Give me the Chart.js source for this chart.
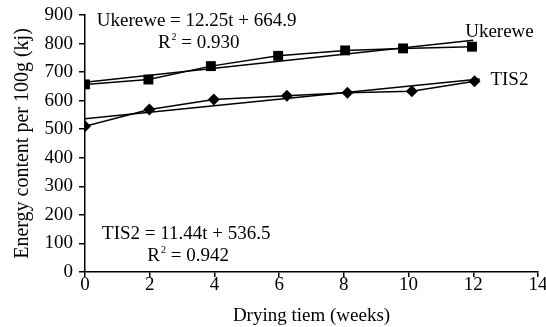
<!DOCTYPE html>
<html>
<head>
<meta charset="utf-8">
<script src="https://cdn.jsdelivr.net/npm/chart.js@4.4.1/dist/chart.umd.min.js"></script>
<style>
  html, body { margin: 0; padding: 0; background: #fff; overflow: hidden; }
</style>
</head>
<body>
<canvas id="energyChart" width="546" height="327"></canvas>
<script>
// ===== DATA =====
const weeksUkerewe = [0, 1.96, 3.89, 5.97, 8.04, 9.83, 11.96];
const energyUkerewe = [657, 674, 721, 757, 776, 783, 789];
const weeksTIS2 = [0, 1.99, 3.98, 6.24, 8.11, 10.1, 12.04];
const energyTIS2 = [510, 569, 604, 617, 628, 633, 668];

// linear fits: [slope, intercept], span of the fitted line, R²
const fitUkerewe = [12.25, 664.9];
const fitTIS2 = [11.44, 536.5];
const spanUkerewe = [0, 12];
const spanTIS2 = [0, 12.2];
const r2Ukerewe = '0.930';
const r2TIS2 = '0.942';

const FAMILY = '"Liberation Serif", "Times New Roman", serif';
const SIZE = 19;

const toPoints = (xs, ys) => xs.map((x, i) => ({ x: x, y: ys[i] }));
const fitLine = (fit, span) => span.map(t => ({ x: t, y: fit[0] * t + fit[1] }));

// ===== TEXT ON THE PLOT =====
function drawR2(ctx, cx, cy, value) {
  const big = SIZE + 'px ' + FAMILY;
  const small = '10px ' + FAMILY;
  const rest = ' = ' + value;
  ctx.font = big;
  const wR = ctx.measureText('R').width;
  const wRest = ctx.measureText(rest).width;
  ctx.font = small;
  const w2 = ctx.measureText('2').width;
  let x = cx - (wR + w2 + wRest) / 2;
  ctx.textAlign = 'left';
  ctx.font = big;
  ctx.fillText('R', x, cy);
  x += wR;
  ctx.font = small;
  ctx.fillText('2', x + 1, cy - 6);
  x += w2 + 1;
  ctx.font = big;
  ctx.fillText(rest, x, cy);
}

const notesPlugin = {
  id: 'notes',
  afterDraw(chart) {
    const { ctx, scales: { x, y } } = chart;
    ctx.save();
    ctx.fillStyle = '#000';
    ctx.textBaseline = 'middle';
    ctx.font = SIZE + 'px ' + FAMILY;

    ctx.textAlign = 'center';
    ctx.fillText('Ukerewe = ' + fitUkerewe[0] + 't + ' + fitUkerewe[1], x.getPixelForValue(3.45), y.getPixelForValue(880));
    ctx.fillText('TIS2 = ' + fitTIS2[0] + 't + ' + fitTIS2[1], x.getPixelForValue(3.13), y.getPixelForValue(134));

    ctx.textAlign = 'left';
    ctx.fillText('Ukerewe', x.getPixelForValue(11.75), y.getPixelForValue(840));
    ctx.fillText('TIS2', x.getPixelForValue(12.53), y.getPixelForValue(672));

    drawR2(ctx, x.getPixelForValue(3.5), y.getPixelForValue(802), r2Ukerewe);
    drawR2(ctx, x.getPixelForValue(3.17), y.getPixelForValue(56), r2TIS2);
    ctx.restore();
  }
};

// ===== CHART =====
const ctx = document.getElementById('energyChart').getContext('2d');
new Chart(ctx, {
  type: 'scatter',
  data: {
    datasets: [
      {
        label: 'Ukerewe',
        data: toPoints(weeksUkerewe, energyUkerewe),
        showLine: true,
        borderColor: '#000',
        borderWidth: 1.5,
        pointStyle: 'rect',
        pointRadius: 7,
        pointBackgroundColor: '#000',
        pointBorderWidth: 0
      },
      {
        label: 'Ukerewe fit',
        data: fitLine(fitUkerewe, spanUkerewe),
        showLine: true,
        borderColor: '#000',
        borderWidth: 1.5,
        pointRadius: 0
      },
      {
        label: 'TIS2',
        data: toPoints(weeksTIS2, energyTIS2),
        showLine: true,
        borderColor: '#000',
        borderWidth: 1.5,
        pointStyle: 'rectRot',
        pointRadius: 6,
        pointBackgroundColor: '#000',
        pointBorderWidth: 0
      },
      {
        label: 'TIS2 fit',
        data: fitLine(fitTIS2, spanTIS2),
        showLine: true,
        borderColor: '#000',
        borderWidth: 1.5,
        pointRadius: 0
      }
    ]
  },
  options: {
    responsive: false,
    animation: false,
    layout: { padding: { top: 15, right: 8, bottom: 0, left: 0 } },
    plugins: {
      legend: { display: false },
      tooltip: { enabled: false }
    },
    scales: {
      x: {
        type: 'linear',
        min: 0,
        max: 14,
        border: { color: '#000', width: 1.5 },
        grid: { drawOnChartArea: false, color: '#000', lineWidth: 1.5, tickLength: 5 },
        ticks: { stepSize: 2, color: '#000', font: { family: FAMILY, size: SIZE }, padding: -3, maxRotation: 0 },
        title: {
          display: true,
          text: 'Drying tiem (weeks)',
          color: '#000',
          font: { family: FAMILY, size: SIZE },
          padding: { top: 4, bottom: 0 }
        },
        afterFit: s => { s.paddingLeft = 0; s.paddingRight = 0; s.height = 55; }
      },
      y: {
        min: 0,
        max: 900,
        border: { color: '#000', width: 1.5 },
        grid: { drawOnChartArea: false, color: '#000', lineWidth: 1.5, tickLength: 6 },
        ticks: { stepSize: 100, color: '#000', font: { family: FAMILY, size: SIZE }, padding: 6 },
        title: {
          display: true,
          text: 'Energy content per 100g (kj)',
          color: '#000',
          font: { family: FAMILY, size: 20 },
          padding: { top: 11, bottom: 0 }
        },
        afterFit: s => { s.width = 85; s.paddingTop = 0; s.paddingBottom = 0; }
      }
    }
  },
  plugins: [notesPlugin]
});
</script>
</body>
</html>
